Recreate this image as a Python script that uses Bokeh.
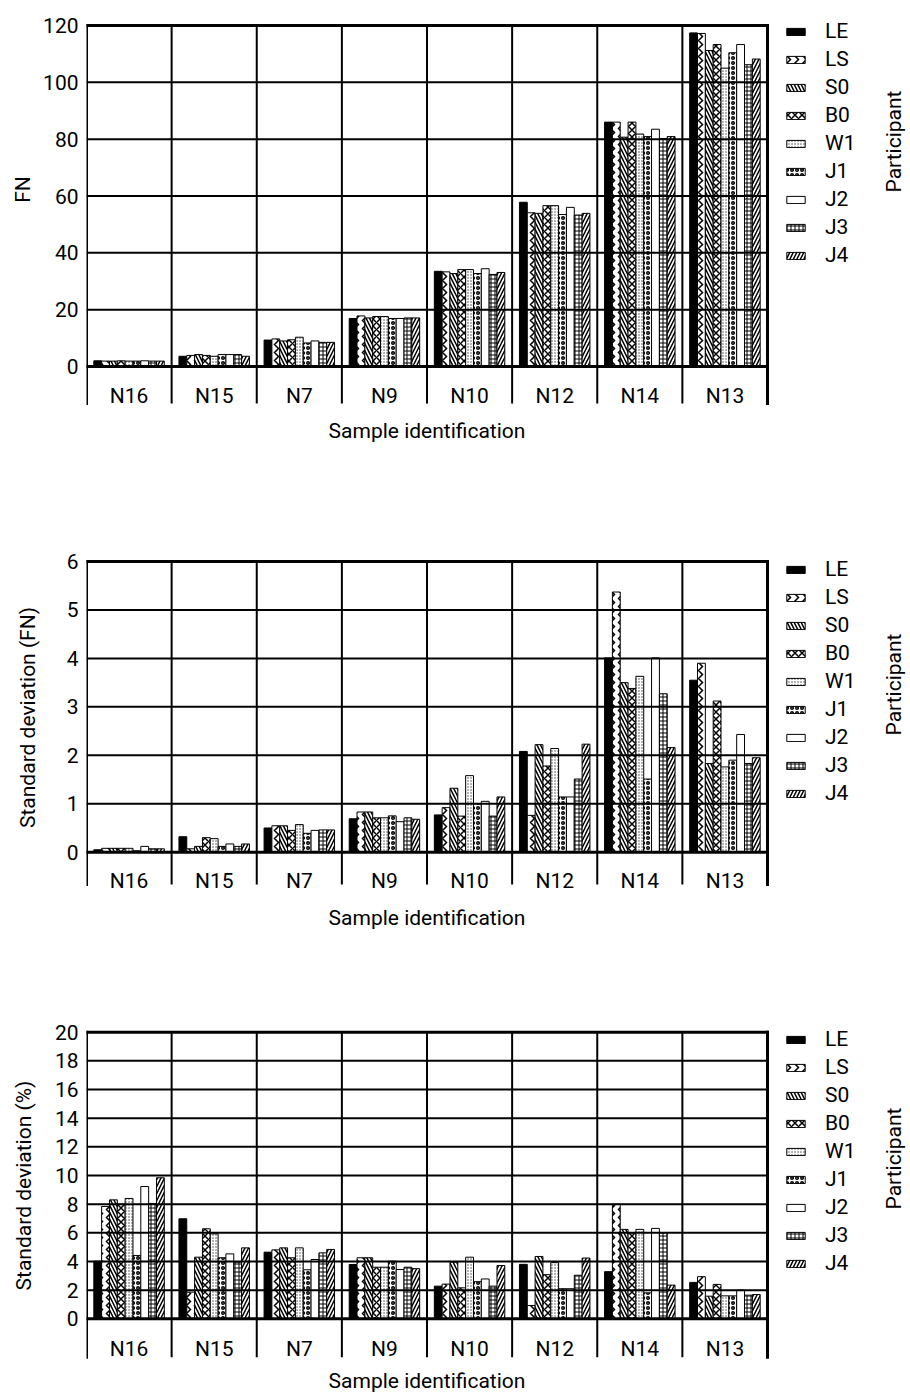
import math
from bokeh.plotting import figure
from bokeh.models import Range1d, FixedTicker, Legend, LegendItem
from bokeh.layouts import column, row
from bokeh.embed import file_html
from bokeh.resources import INLINE
from bokeh.core.properties import value

# ---------------- data ----------------
categories = ["N16", "N15", "N7", "N9", "N10", "N12", "N14", "N13"]
participants = ["LE", "LS", "S0", "B0", "W1", "J1", "J2", "J3", "J4"]

# Panel 1: FN
fn_LE = [2.0, 3.6, 9.3, 16.9, 33.5, 57.8, 86.0, 117.4]
fn_LS = [1.9, 3.9, 9.7, 17.8, 33.3, 54.1, 86.0, 117.2]
fn_S0 = [1.9, 4.2, 9.0, 17.1, 32.7, 53.9, 80.7, 111.2]
fn_B0 = [2.0, 3.9, 9.4, 17.6, 34.1, 56.6, 86.0, 113.3]
fn_W1 = [1.9, 3.6, 10.3, 17.6, 34.1, 56.6, 81.8, 105.0]
fn_J1 = [1.9, 4.2, 8.3, 16.9, 32.7, 53.5, 80.9, 110.4]
fn_J2 = [2.0, 4.2, 9.0, 16.9, 34.4, 56.0, 83.5, 113.3]
fn_J3 = [1.9, 4.2, 8.5, 17.1, 32.4, 53.3, 80.2, 106.2]
fn_J4 = [1.9, 3.6, 8.5, 17.1, 33.1, 53.9, 80.9, 108.2]

# Panel 2: standard deviation (FN)
sd_LE = [0.05, 0.32, 0.50, 0.69, 0.77, 2.08, 4.01, 3.55]
sd_LS = [0.08, 0.07, 0.545, 0.83, 0.92, 0.76, 5.37, 3.90]
sd_S0 = [0.08, 0.12, 0.545, 0.83, 1.32, 2.22, 3.50, 1.83]
sd_B0 = [0.08, 0.30, 0.45, 0.71, 0.745, 1.78, 3.38, 3.12]
sd_W1 = [0.08, 0.28, 0.57, 0.71, 1.58, 2.14, 3.63, 1.76]
sd_J1 = [0.03, 0.12, 0.39, 0.75, 1.00, 1.14, 1.51, 1.90]
sd_J2 = [0.12, 0.17, 0.45, 0.63, 1.05, 1.14, 4.01, 2.43]
sd_J3 = [0.07, 0.12, 0.46, 0.71, 0.745, 1.51, 3.27, 1.83]
sd_J4 = [0.07, 0.17, 0.46, 0.68, 1.14, 2.23, 2.16, 1.95]

# Panel 3: standard deviation (%)
pc_LE = [4.02, 6.98, 4.65, 3.79, 2.28, 3.80, 3.29, 2.54]
pc_LS = [7.84, 1.86, 4.81, 4.26, 2.42, 0.93, 8.00, 2.94]
pc_S0 = [8.30, 4.30, 4.95, 4.26, 3.95, 4.35, 6.24, 1.58]
pc_B0 = [8.00, 6.28, 4.26, 3.60, 2.16, 3.08, 6.00, 2.40]
pc_W1 = [8.40, 5.93, 4.95, 3.60, 4.30, 3.92, 6.24, 1.60]
pc_J1 = [4.42, 4.26, 3.42, 4.02, 2.59, 2.10, 1.81, 1.60]
pc_J2 = [9.23, 4.53, 4.14, 3.44, 2.78, 2.10, 6.31, 2.00]
pc_J3 = [8.05, 3.95, 4.60, 3.60, 2.28, 3.04, 6.00, 1.65]
pc_J4 = [9.84, 4.95, 4.84, 3.50, 3.72, 4.24, 2.35, 1.69]

fn_ticks = [0, 20, 40, 60, 80, 100, 120]
sd_ticks = [0, 1, 2, 3, 4, 5, 6]
pc_ticks = [0, 2, 4, 6, 8, 10, 12, 14, 16, 18, 20]

fn_data = [fn_LE, fn_LS, fn_S0, fn_B0, fn_W1, fn_J1, fn_J2, fn_J3, fn_J4]
sd_data = [sd_LE, sd_LS, sd_S0, sd_B0, sd_W1, sd_J1, sd_J2, sd_J3, sd_J4]
pc_data = [pc_LE, pc_LS, pc_S0, pc_B0, pc_W1, pc_J1, pc_J2, pc_J3, pc_J4]

y_titles = ["FN", "Standard deviation (FN)", "Standard deviation (%)"]

# ---------------- styles ----------------
FONT = "Roboto"
FS = "21px"
styles = {
    "LE": dict(fill_color="black", hatch_pattern=None),
    "LS": dict(fill_color="white", hatch_pattern="vertical_wave", hatch_scale=8, hatch_weight=1.5),
    "S0": dict(fill_color="white", hatch_pattern="left_diagonal_line", hatch_scale=7, hatch_weight=1.5),
    "B0": dict(fill_color="white", hatch_pattern="diagonal_cross", hatch_scale=7, hatch_weight=1.5),
    "W1": dict(fill_color="white", hatch_pattern="dot", hatch_scale=3, hatch_color="#444444"),
    "J1": dict(fill_color="white", hatch_pattern="ring", hatch_scale=5, hatch_weight=1.5),
    "J2": dict(fill_color="white", hatch_pattern=None),
    "J3": dict(fill_color="white", hatch_pattern="cross", hatch_scale=4),
    "J4": dict(fill_color="white", hatch_pattern="right_diagonal_line", hatch_scale=7, hatch_weight=1.5),
}

TOTAL_W = 910
TOTAL_H = 1398
TITLE_W = 40                # narrow strip holding the rotated y titles
W = TOTAL_W - TITLE_W       # width of each panel figure
LEFT = 86                   # canvas x of the plot's left edge
PAD_LEFT = LEFT - TITLE_W
PX_PER_CAT = (767 - 86) / 8.0
BW = 0.092


def make_panel(data, ticks, H, zero_px, top_px, sep_px, lab_px, xlab_px,
               part_px, leg_first_px):
    ymax = ticks[-1]
    s = (zero_px - top_px) / ymax
    y_end = (zero_px - 2) / s
    y_start = -(H - 2 - zero_px) / s
    x_end = (TOTAL_W - LEFT) / PX_PER_CAT

    def ypx(py):
        return (zero_px - py) / s

    def xpx(px):
        return (px - LEFT) / PX_PER_CAT

    p = figure(width=W, height=H, x_range=Range1d(0, x_end),
               y_range=Range1d(y_start, y_end), x_axis_location=None,
               output_backend="svg", toolbar_location=None,
               min_border_left=PAD_LEFT, min_border_right=0,
               min_border_top=2, min_border_bottom=2)
    p.outline_line_color = None
    p.xgrid.visible = False
    p.ygrid.visible = False

    ya = p.yaxis[0]
    ya.ticker = FixedTicker(ticks=ticks)
    ya.axis_line_color = None
    ya.major_tick_line_color = None
    ya.minor_tick_line_color = None
    ya.major_tick_out = 0
    ya.major_tick_in = 0
    ya.major_label_standoff = 8
    ya.major_label_text_font = FONT
    ya.major_label_text_font_size = FS
    ya.major_label_text_color = "black"

    n = len(categories)
    items = []
    for j, (name, vals) in enumerate(zip(participants, data)):
        xs = [i + 0.5 + (j - (len(participants) - 1) / 2) * BW for i in range(n)]
        st = dict(styles[name])
        st.setdefault("hatch_color", "black")
        r = p.vbar(x=xs, top=vals, bottom=0, width=BW, line_color="black",
                   line_width=1, **st)
        items.append(LegendItem(label=name, renderers=[r]))

    # grid lines (on top of bars)
    inner_t = ticks[1:-1]
    p.segment(x0=[0] * len(inner_t), x1=[n] * len(inner_t), y0=inner_t, y1=inner_t,
              line_color="black", line_width=2)
    p.segment(x0=[0, 0], x1=[n, n], y0=[ticks[0], ticks[-1]], y1=[ticks[0], ticks[-1]],
              line_color="black", line_width=3, line_cap="square")
    sep_y = ypx(sep_px)
    inner_x = list(range(1, n))
    p.segment(x0=inner_x, x1=inner_x, y0=[sep_y] * len(inner_x), y1=[ymax] * len(inner_x),
              line_color="black", line_width=2)
    p.segment(x0=[0, n], x1=[0, n], y0=[sep_y, sep_y], y1=[ymax, ymax],
              line_color="black", line_width=3, line_cap="square")

    # category labels
    p.text(x=[i + 0.5 for i in range(n)], y=[ypx(lab_px)] * n, text=categories,
           text_align="center", text_baseline="middle", text_font=value(FONT),
           text_font_size=FS, text_color="black")
    p.text(x=[n / 2], y=[ypx(xlab_px)], text=["Sample identification"],
           text_align="center", text_baseline="middle", text_font=value(FONT),
           text_font_size=FS, text_color="black")
    p.text(x=[xpx(893)], y=[ypx(part_px)], text=["Participant"],
           angle=math.pi / 2, text_align="center", text_baseline="middle",
           text_font=value(FONT), text_font_size=FS, text_color="black")

    # legend
    lab_h = 24
    spacing = 4
    leg_h = len(items) * lab_h + (len(items) - 1) * spacing
    leg_top = leg_first_px - lab_h / 2
    vy = int(round((H - 2) - (leg_top + leg_h)))
    legend = Legend(items=items, location=(784 - LEFT, vy), glyph_width=23,
                    glyph_height=9, label_height=lab_h, spacing=spacing,
                    label_standoff=18, padding=0, margin=0,
                    border_line_color=None, background_fill_alpha=0,
                    label_text_font=FONT, label_text_font_size=FS,
                    label_text_color="black")
    p.add_layout(legend)
    return p


p1 = make_panel(fn_data, fn_ticks, H=470, zero_px=366, top_px=25, sep_px=403,
                lab_px=395, xlab_px=430, part_px=141, leg_first_px=31)
p2 = make_panel(sd_data, sd_ticks, H=475, zero_px=851.7 - 470, top_px=561 - 470,
                sep_px=884 - 470, lab_px=880 - 470, xlab_px=917 - 470,
                part_px=684 - 470, leg_first_px=568.7 - 470)
p3 = make_panel(pc_data, pc_ticks, H=453, zero_px=1318.3 - 945, top_px=1031.7 - 945,
                sep_px=1356.7 - 945, lab_px=1348 - 945, xlab_px=1380 - 945,
                part_px=1158 - 945, leg_first_px=1038.7 - 945)

# strip with the rotated y-axis titles (pixel-like coordinates, y downward)
t = figure(width=TITLE_W, height=TOTAL_H, x_range=Range1d(0, TITLE_W),
           y_range=Range1d(TOTAL_H, 0), x_axis_location=None, y_axis_location=None,
           output_backend="svg", toolbar_location=None, min_border=0)
t.outline_line_color = None
t.xgrid.visible = False
t.ygrid.visible = False
t.text(x=[22, 27, 23], y=[189, 717, 1185], text=y_titles, angle=math.pi / 2,
       text_align="center", text_baseline="middle", text_font=value(FONT),
       text_font_size=FS, text_color="black")

layout = row(t, column(p1, p2, p3, spacing=0), spacing=0)
open("out.html", "w").write(file_html(layout, INLINE))
